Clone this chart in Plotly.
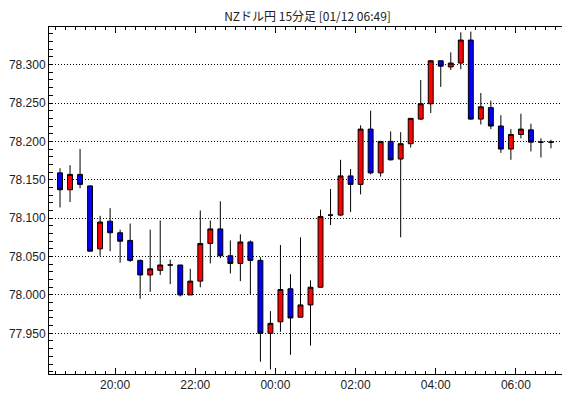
import pandas as pd
import plotly.graph_objects as go

# 15-minute candles, NZD/JPY (interval start times)
times = [
    "2024-01-11 18:30", "2024-01-11 18:45", "2024-01-11 19:00", "2024-01-11 19:15",
    "2024-01-11 19:30", "2024-01-11 19:45", "2024-01-11 20:00", "2024-01-11 20:15",
    "2024-01-11 20:30", "2024-01-11 20:45", "2024-01-11 21:00", "2024-01-11 21:15",
    "2024-01-11 21:30", "2024-01-11 21:45", "2024-01-11 22:00", "2024-01-11 22:15",
    "2024-01-11 22:30", "2024-01-11 22:45", "2024-01-11 23:00", "2024-01-11 23:15",
    "2024-01-11 23:30", "2024-01-11 23:45", "2024-01-12 00:00", "2024-01-12 00:15",
    "2024-01-12 00:30", "2024-01-12 00:45", "2024-01-12 01:00", "2024-01-12 01:15",
    "2024-01-12 01:30", "2024-01-12 01:45", "2024-01-12 02:00", "2024-01-12 02:15",
    "2024-01-12 02:30", "2024-01-12 02:45", "2024-01-12 03:00", "2024-01-12 03:15",
    "2024-01-12 03:30", "2024-01-12 03:45", "2024-01-12 04:00", "2024-01-12 04:15",
    "2024-01-12 04:30", "2024-01-12 04:45", "2024-01-12 05:00", "2024-01-12 05:15",
    "2024-01-12 05:30", "2024-01-12 05:45", "2024-01-12 06:00", "2024-01-12 06:15",
    "2024-01-12 06:30", "2024-01-12 06:45",
]

opens = [
    78.159, 78.137, 78.157, 78.142, 78.060, 78.096, 78.081, 78.071, 78.045, 78.026,
    78.032, 78.039, 78.039, 78.000, 78.018, 78.067, 78.086, 78.051, 78.041, 78.069,
    78.045, 77.950, 77.965, 78.008, 77.971, 77.987, 78.010, 78.104, 78.104, 78.155,
    78.144, 78.216, 78.159, 78.200, 78.177, 78.197, 78.229, 78.249, 78.305, 78.297,
    78.302, 78.332, 78.229, 78.244, 78.220, 78.190, 78.209, 78.215, 78.199, 78.199,
]
highs = [
    78.165, 78.169, 78.190, 78.143, 78.103, 78.113, 78.085, 78.093, 78.046, 78.085,
    78.097, 78.046, 78.039, 78.034, 78.110, 78.097, 78.122, 78.071, 78.079, 78.071,
    78.049, 77.979, 78.065, 78.027, 78.075, 78.019, 78.111, 78.138, 78.176, 78.164,
    78.221, 78.240, 78.200, 78.213, 78.212, 78.230, 78.280, 78.306, 78.305, 78.316,
    78.342, 78.343, 78.263, 78.253, 78.234, 78.216, 78.236, 78.223, 78.204, 78.202,
]
lows = [
    78.114, 78.121, 78.139, 78.057, 78.051, 78.057, 78.042, 78.043, 77.995, 78.004,
    78.026, 78.014, 77.998, 78.000, 78.010, 78.041, 78.048, 78.028, 78.018, 78.000,
    77.913, 77.903, 77.952, 77.922, 77.971, 77.934, 78.010, 78.091, 78.103, 78.108,
    78.131, 78.157, 78.154, 78.175, 78.075, 78.192, 78.228, 78.237, 78.271, 78.293,
    78.294, 78.228, 78.222, 78.216, 78.185, 78.176, 78.204, 78.187, 78.179, 78.191,
]
closes = [
    78.137, 78.157, 78.144, 78.057, 78.095, 78.081, 78.070, 78.045, 78.026, 78.034,
    78.039, 78.039, 78.000, 78.018, 78.067, 78.086, 78.051, 78.041, 78.069, 78.045,
    77.950, 77.963, 78.007, 77.970, 77.987, 78.010, 78.102, 78.104, 78.155, 78.144,
    78.216, 78.159, 78.200, 78.176, 78.197, 78.230, 78.249, 78.305, 78.298, 78.302,
    78.332, 78.229, 78.245, 78.220, 78.190, 78.209, 78.216, 78.199, 78.199, 78.199,
]

# labelled price levels on the y axis
y_ticks = [77.950, 78.000, 78.050, 78.100, 78.150, 78.200, 78.250, 78.300]
y_tick_labels = ["77.950", "78.000", "78.050", "78.100", "78.150", "78.200", "78.250", "78.300"]

title_text = "NZドル円 15分足 [01/12 06:49]"

# candles are drawn in the middle of their 15-minute interval
x_centers = pd.to_datetime(times) + pd.Timedelta(minutes=7.5)

fig = go.Figure(
    go.Candlestick(
        x=x_centers,
        open=opens, high=highs, low=lows, close=closes,
        increasing=dict(fillcolor="#ff0000", line=dict(color="black", width=1)),
        decreasing=dict(fillcolor="#0000ff", line=dict(color="black", width=1)),
        whiskerwidth=0,
        hoverinfo="skip",
        showlegend=False,
    )
)

axis_font = dict(family="Liberation Sans, Arial, sans-serif", size=12, color="#222222")

# the page body adds an 8px margin, so the figure is 8px smaller than the window
fig.update_layout(
    width=562, height=390,
    margin=dict(l=41, r=4, t=19, b=24, autoexpand=False),
    paper_bgcolor="white", plot_bgcolor="white",
    showlegend=False,
    title=dict(
        text=title_text,
        x=0.5, xref="paper", xanchor="center",
        y=1 - 9 / 390, yref="container", yanchor="middle",
        font=dict(family="Noto Sans CJK JP, sans-serif", size=12, color="#222222"),
    ),
    xaxis=dict(
        type="date",
        automargin=False,
        range=["2024-01-11 18:21", "2024-01-12 07:15"],
        rangeslider=dict(visible=False),
        tickformat="%H:%M",
        tick0="2024-01-11 20:00",
        dtick=7200000,
        ticks="inside", ticklen=6, tickcolor="black", tickwidth=1,
        minor=dict(dtick=900000, tick0="2024-01-11 20:00", ticks="inside", ticklen=3,
                   tickcolor="black", showgrid=False),
        showgrid=False,
        showline=True, linecolor="black", linewidth=1, mirror="allticks",
        tickfont=axis_font,
        zeroline=False,
    ),
    yaxis=dict(
        automargin=False,
        range=[77.897, 78.349],
        tickmode="array", tickvals=y_ticks, ticktext=y_tick_labels,
        ticks="inside", ticklen=4, tickcolor="black", tickwidth=1,
        minor=dict(tickmode="linear", tick0=77.95, dtick=0.01, ticks="inside", ticklen=4,
                   tickcolor="black", showgrid=False),
        showgrid=True, gridcolor="black", gridwidth=1, griddash="1px,2px",
        showline=True, linecolor="black", linewidth=1, mirror="allticks",
        tickfont=axis_font,
        zeroline=False,
    ),
)

fig.write_html("out.html")
